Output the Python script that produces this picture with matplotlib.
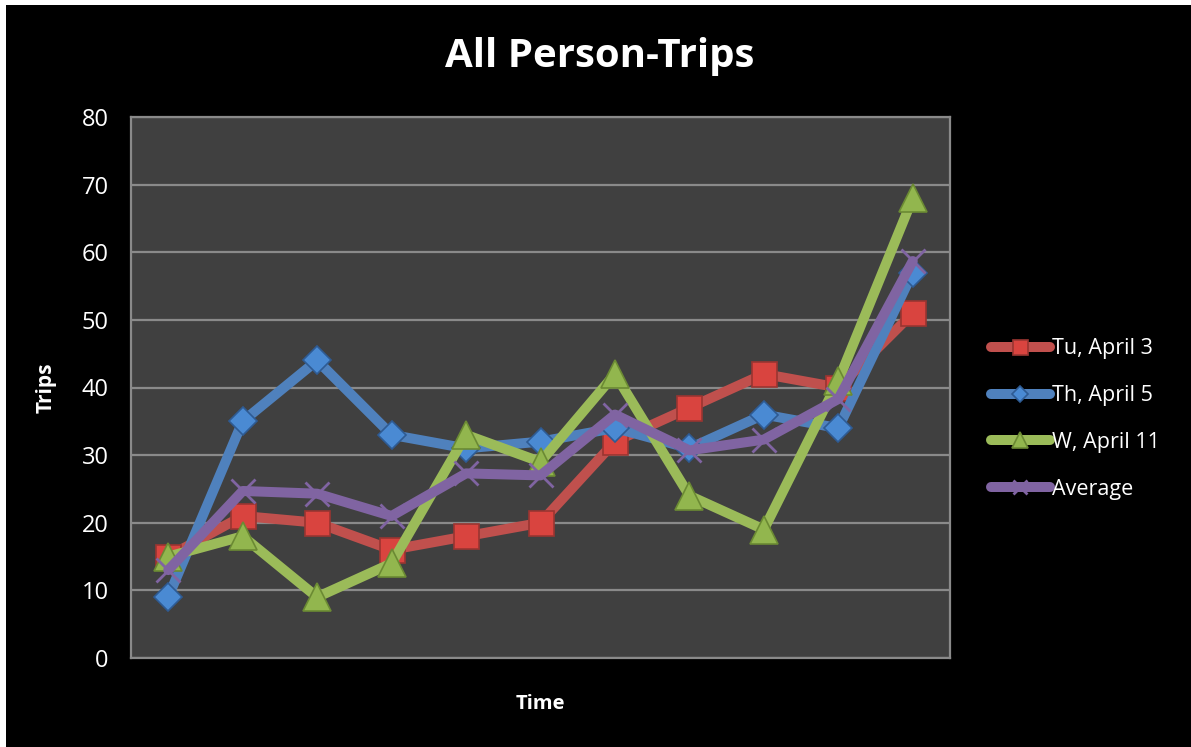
import matplotlib
matplotlib.use("Agg")
import matplotlib.pyplot as plt
from matplotlib.patches import Rectangle

plt.rcParams['font.family'] = ['Open Sans', 'DejaVu Sans']

x_labels = [str(i) for i in range(1, 12)]
tu_april3 = [15, 21, 20, 16, 18, 20, 32, 37, 42, 40, 51]
th_april5 = [9, 35, 44, 33, 31, 32, 34, 31, 36, 34, 57]
w_april11 = [15, 18, 9, 14, 33, 29, 42, 24, 19, 41, 68]
average = [13, 24.7, 24.3, 21, 27.3, 27, 36, 30.7, 32.3, 38.3, 58.7]
y_ticks = [0, 10, 20, 30, 40, 50, 60, 70, 80]

fig = plt.figure(figsize=(11.91, 7.47), dpi=100)
fig.patch.set_facecolor('white')
fig.patches.append(Rectangle((6/1191, 0), 1, 1 - 5/747, transform=fig.transFigure,
                             facecolor='black', edgecolor='none', zorder=-10))

ax = fig.add_axes([131/1191, 1 - 658/747, (950 - 131)/1191, (658 - 117)/747])
ax.set_facecolor('#404040')
xs = list(range(len(x_labels)))

series = [
    ("Tu, April 3", tu_april3, '#C0504D', 's', '#D9443F', '#9A3531', 18, 1.2),
    ("Th, April 5", th_april5, '#4F81BD', 'D', '#4A8AD3', '#2E5B93', 14, 1.2),
    ("W, April 11", w_april11, '#9BBB59', '^', '#92B64E', '#6B8A33', 20, 1.2),
    ("Average", average, '#8064A2', 'x', '#8064A2', '#8064A2', 17, 2.0),
]
for i, (lab, vals, col, mk, fc, ec, ms, mew) in enumerate(series):
    ax.plot(xs, vals, color=col, lw=7.2, marker=mk, markersize=ms,
            markerfacecolor=fc, markeredgecolor=ec, markeredgewidth=mew,
            solid_capstyle='round', solid_joinstyle='round', label=lab, zorder=3 + i)

ax.set_xlim(-0.5, len(x_labels) - 0.5)
ax.set_ylim(0, 80)
ax.set_yticks(y_ticks)
ax.set_xticks([])
ax.yaxis.grid(True, color='#8A8A8A', lw=1.6)
ax.set_axisbelow(True)
for s in ax.spines.values():
    s.set_color('#8A8A8A')
    s.set_linewidth(1.6)
ax.tick_params(axis='y', length=0, pad=16, colors='white', labelsize=17)
for t in ax.get_yticklabels():
    t.set_color('white')

ax.set_ylabel('Trips', color='white', fontsize=15, fontweight='bold')
ax.yaxis.set_label_coords((57 - 131) / 819, 0.5)
ax.set_xlabel('Time', color='white', fontsize=14.5, fontweight='bold', labelpad=26)
fig.text(600/1191, 1 - 57/747, 'All Person-Trips', color='white', fontsize=29,
         fontweight='bold', ha='center', va='center')

leg = ax.legend(loc='center left', bbox_to_anchor=(972/1191, 1 - 419/747),
                bbox_transform=fig.transFigure, frameon=False, fontsize=15.5,
                labelcolor='white', handlelength=2.7, handletextpad=0.1,
                labelspacing=1.2, markerscale=0.6)

fig.savefig('out.png', dpi=100, facecolor=fig.get_facecolor())
